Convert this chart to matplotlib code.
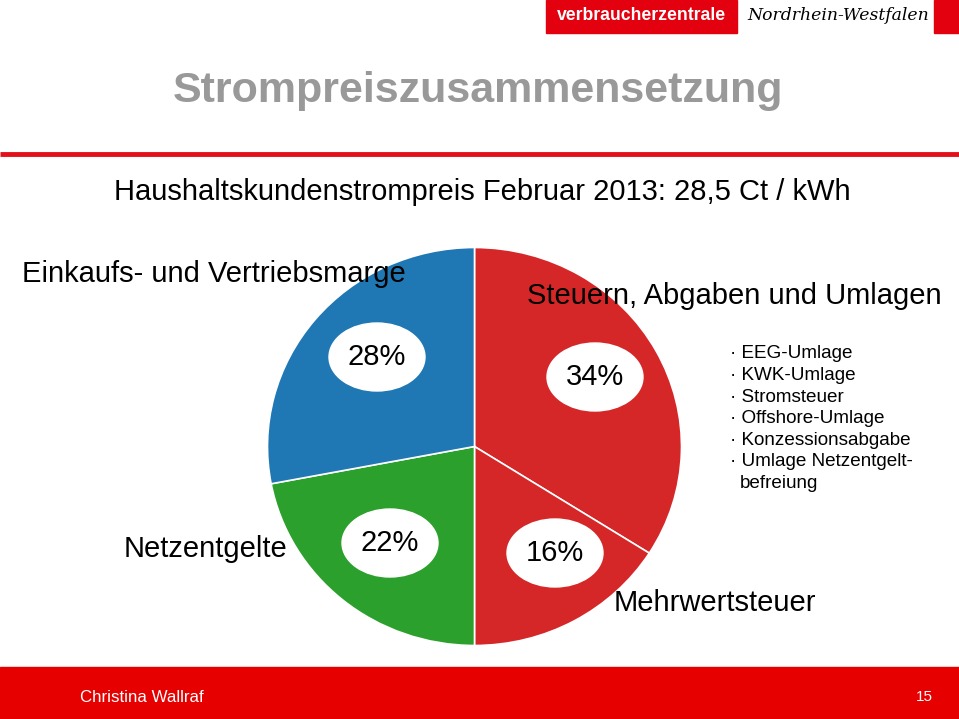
import matplotlib
matplotlib.use("Agg")
import matplotlib.pyplot as plt
from matplotlib.patches import Rectangle, Ellipse

plt.rcParams['font.family'] = ['Liberation Sans', 'DejaVu Sans']

# data
shares = [34, 16, 22, 28]
share_labels = ['34%', '16%', '22%', '28%']
colors = ['#d62728', '#d62728', '#2ca02c', '#1f77b4']
umlagen = ['EEG-Umlage', 'KWK-Umlage', 'Stromsteuer', 'Offshore-Umlage',
           'Konzessionsabgabe', 'Umlage Netzentgelt-']

W, H = 959, 719
fig = plt.figure(figsize=(W / 100, H / 100), dpi=100)

# pie, slightly stretched like the slide
cx, cy, rx, ry = 474.5, 446.5, 207, 199
ax = fig.add_axes([(cx - rx) / W, 1 - (cy + ry) / H, 2 * rx / W, 2 * ry / H])
ax.pie(shares, colors=colors, startangle=90, counterclock=False,
       wedgeprops=dict(edgecolor='white', linewidth=1.2))
ax.set_aspect('auto')
ax.set_xlim(-1, 1)
ax.set_ylim(-1, 1)
ax.axis('off')

# overlay in pixel coords for slide decoration, on top of the pie
ov = fig.add_axes([0, 0, 1, 1])
ov.set_zorder(5)
ov.patch.set_alpha(0)
ov.set_xlim(0, W)
ov.set_ylim(H, 0)
ov.axis('off')

# header logo
ov.add_patch(Rectangle((546, 0), 191, 33, color='#e3000f', zorder=1))
ov.text(641.5, 16, 'verbraucherzentrale', color='white', fontsize=12.7, fontweight='bold',
        ha='center', va='center')
ov.text(838, 16, 'Nordrhein-Westfalen', color='black', fontsize=12.4, style='italic',
        family=['DejaVu Serif'], ha='center', va='center')
ov.add_patch(Rectangle((934, 0), 25, 33, color='#e3000f'))

# title + red rule
ov.text(478, 91, 'Strompreiszusammensetzung', color='#999999', fontsize=31,
        fontweight='bold', ha='center', va='center')
ov.plot([0, W], [154, 154], color='#e3101a', lw=3.5, solid_capstyle='butt')

ov.text(482, 192, 'Haushaltskundenstrompreis Februar 2013: 28,5 Ct / kWh',
        fontsize=21, ha='center', va='center')

# category labels
ov.text(22, 274, 'Einkaufs- und Vertriebsmarge', fontsize=21, ha='left', va='center')
ov.text(942, 296, 'Steuern, Abgaben und Umlagen', fontsize=21, ha='right', va='center')
ov.text(124, 549, 'Netzentgelte', fontsize=21, ha='left', va='center')
ov.text(614, 603, 'Mehrwertsteuer', fontsize=21, ha='left', va='center')

# percentage bubbles
bubble_pos = [(595, 377), (555, 553), (390, 543), (377, 357)]
for (bx, by), lab in zip(bubble_pos, share_labels):
    ov.add_patch(Ellipse((bx, by), 96, 68, color='white', zorder=3))
    ov.text(bx, by, lab, fontsize=21, ha='center', va='center', zorder=4)

# list of levies
for i, item in enumerate(umlagen):
    ov.text(730, 354 + i * 21.6, '· ' + item, fontsize=13.6, ha='left', va='center')
ov.text(740, 354 + 6 * 21.6, 'befreiung', fontsize=13.6, ha='left', va='center')

# footer
ov.add_patch(Rectangle((0, 667), W, 52, color='#e60000'))
ov.text(80, 698, 'Christina Wallraf', color='white', fontsize=12.2, ha='left', va='center')
ov.text(933, 697, '15', color='white', fontsize=11, ha='right', va='center')

fig.savefig('out.png', dpi=100)
